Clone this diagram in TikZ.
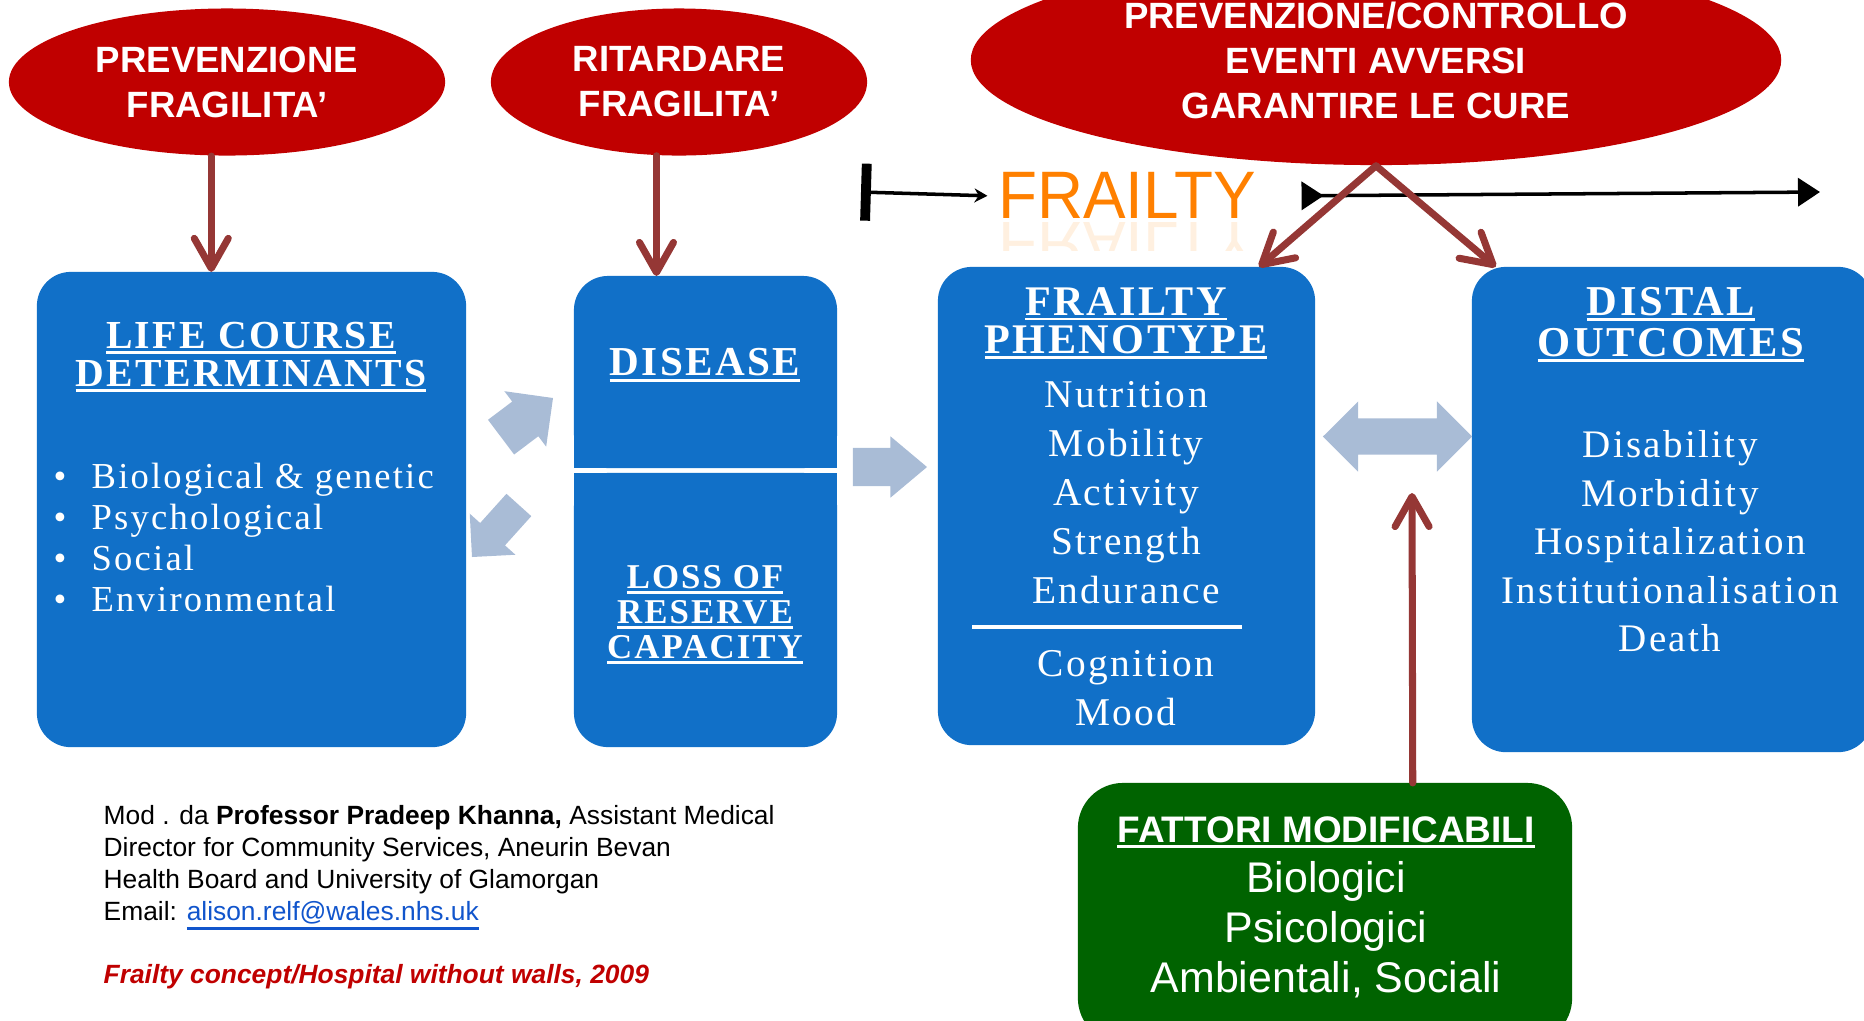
\documentclass[tikz,border=0pt]{standalone}
\usepackage{fontspec}
\setmainfont{Liberation Serif}
\newfontfamily\boxfont[LetterSpace=6]{Liberation Serif}
\newfontfamily\arialfont{Liberation Sans}
\newfontfamily\frailfont[FakeStretch=0.95]{Liberation Sans}
\usepackage{tikz}
\usetikzlibrary{arrows.meta,positioning,shapes.geometric,shapes.arrows}

\definecolor{goalred}{HTML}{C00000}
\definecolor{boxblue}{HTML}{1170C8}
\definecolor{blockgray}{HTML}{A9BCD6}
\definecolor{linkred}{HTML}{953735}
\definecolor{fatgreen}{HTML}{006300}
\definecolor{frailorange}{HTML}{FF8000}
\definecolor{mailblue}{HTML}{1155CC}

\newcommand{\setfs}[2]{\fontsize{#1}{#2}\selectfont}
\newcommand{\bul}{\makebox[0.38cm][l]{\textbullet}}
\newcommand{\uln}[1]{\leavevmode\vtop{\hbox{#1}\kern0.7pt\hrule height 0.8pt}}

\begin{document}
\begin{tikzpicture}[x=0.01cm, y=-0.01cm,
  goal/.style={ellipse, fill=goalred, text=white, inner sep=0pt, align=center,
    font=\arialfont\bfseries\setfs{10.4}{12.8}},
  box/.style={fill=boxblue, rounded corners=0.34cm, inner sep=0pt, outer sep=0pt},
  boxtext/.style={text=white, align=center, inner sep=0pt, anchor=north},
  link/.style={draw=linkred, line width=2pt, line cap=round,
    -{Straight Barb[length=3mm, width=3.4mm, round]}},
  block/.style={single arrow, fill=blockgray, inner xsep=0pt, outer sep=0pt, single arrow tip angle=90}
]
\useasboundingbox (0,0) rectangle (1864,1020);
\clip (0,0) rectangle (1864,1020);

% goals on top
\node[goal, minimum width=4.36cm, minimum height=1.47cm] (prevent) at (227,82) {PREVENZIONE\\FRAGILITA’};
\node[goal, minimum width=3.76cm, minimum height=1.47cm] (delay) at (679,82) {RITARDARE\\FRAGILITA’};
\node[goal, minimum width=8.1cm, minimum height=2.1cm] (care) at (1376,60) {PREVENZIONE/CONTROLLO\\EVENTI AVVERSI\\GARANTIRE LE CURE};

% frailty timeline
\node[font=\frailfont\setfs{19.1}{22}, text=frailorange, inner sep=0pt, anchor=north] (frailty) at (1127,172) {FRAILTY};
\begin{scope}
  \clip (980,221) rectangle (1280,250);
  \begin{scope}[shift={(1127,222)}, yscale=-1]
    \node[font=\frailfont\setfs{19.1}{22}, text=frailorange, opacity=0.12, inner sep=0pt, anchor=base, transform shape] (mirror) at (0,0) {FRAILTY};
  \end{scope}
\end{scope}
\coordinate (tlstart) at (861,192);
\coordinate (tlend) at (1820,192);
\draw[line width=1pt, {Bar[width=5.7mm, line width=2.8pt]}-{Stealth[length=1.3mm, width=1.4mm]}] (tlstart) -- ([xshift=-0.1cm]frailty.west);
\draw[line width=1pt, {Triangle[reversed, length=2.2mm, width=2.8mm]}-{Triangle[length=2.2mm, width=2.8mm]}] ([xshift=0.45cm]frailty.east) -- (tlend);

% main boxes
\node[box, minimum width=4.29cm, minimum height=4.75cm] (life) at (251.5,509.5) {};
\node[box, minimum width=2.63cm, minimum height=1.92cm] (disease) at (705.5,372) {};
\node[box, minimum width=2.63cm, minimum height=2.74cm] (reserve) at (705.5,610) {};
\fill[boxblue] (disease.south west) rectangle ([yshift=0.5cm]disease.south east);
\fill[boxblue] (reserve.north west) rectangle ([yshift=-0.5cm]reserve.north east);
\node[box, minimum width=3.77cm, minimum height=4.78cm] (phenotype) at (1126.5,506) {};
\node[box, minimum width=4.0cm, minimum height=4.85cm] (outcomes) at (1672,509.5) {};
\node[box, fill=fatgreen, rounded corners=0.45cm, minimum width=4.94cm, minimum height=2.6cm] (factors) at (1325,913) {};

\node[boxtext, font=\boxfont\bfseries\setfs{11.3}{10.9}] (lifetitle) at (251,321) {\uln{LIFE COURSE}\\\uln{DETERMINANTS}};
\node[boxtext, anchor=north west, align=left, font=\boxfont\setfs{10.4}{11.7}] (lifelist) at (53,462) {\bul Biological \& genetic\\\bul Psychological\\\bul Social\\\bul Environmental};
\node[boxtext, font=\boxfont\bfseries\setfs{11.7}{12}] (diseasetxt) at (705,348) {\uln{DISEASE}};
\node[boxtext, font=\boxfont\bfseries\setfs{9.9}{10}] (reservetxt) at (705,564.5) {\uln{LOSS OF}\\\uln{RESERVE}\\\uln{CAPACITY}};
\node[boxtext, font=\boxfont\bfseries\setfs{12}{10.9}] (phentitle) at (1126,286.5) {\uln{FRAILTY}\\\uln{PHENOTYPE}};
\node[boxtext, font=\boxfont\setfs{11.2}{13.9}] (phenlist) at (1126,381) {Nutrition\\Mobility\\Activity\\Strength\\Endurance};
\draw[white, line width=0.9pt] (972,627) -- (1242,627);
\node[boxtext, font=\boxfont\setfs{11.2}{14}] (phenlist2) at (1126,649.5) {Cognition\\Mood};
\node[boxtext, font=\boxfont\bfseries\setfs{12.1}{11.7}] (outtitle) at (1671,286.5) {\uln{DISTAL}\\\uln{OUTCOMES}};
\node[boxtext, font=\boxfont\setfs{11.1}{13.8}] (outlist) at (1670,430) {Disability\\Morbidity\\Hospitalization\\Institutionalisation\\Death};
\node[boxtext, font=\arialfont\bfseries\setfs{10.5}{12}] (factorstitle) at (1326,815.6) {\uln{FATTORI MODIFICABILI}};
\node[boxtext, font=\arialfont\setfs{12.2}{14.2}] (factorslist) at (1326,861) {Biologici\\Psicologici\\Ambientali, Sociali};

% block arrows
\node[block, rotate=37, anchor=tip, minimum height=0.65cm, inner ysep=0.21cm, single arrow head extend=0.13cm] (todisease) at (553,398) {};
\node[block, rotate=228, anchor=tip, minimum height=0.70cm, inner ysep=0.16cm, single arrow head extend=0.14cm] (tolife) at (472,557) {};
\node[block, anchor=tip, minimum height=0.74cm, inner ysep=0.185cm, single arrow head extend=0.115cm, single arrow tip angle=80] (tophenotype) at (927,467) {};
\node[double arrow, fill=blockgray, inner xsep=0pt, inner ysep=0.175cm, minimum height=1.49cm, double arrow head extend=0.17cm] (bothways) at (1397.5,436.5) {};

% red links
\draw[link] (prevent.-102) -- (prevent.-102 |- life.north);
\draw[link] (delay.-107) -- (delay.-107 |- disease.north);
\draw[link] (care.south) -- (phenotype.61);
\draw[link] (care.south) -- (outcomes.126);
\coordinate (modtip) at (1412,493);
\draw[link] (factors.56) -- (modtip);

% credits
\node[anchor=north west, inner sep=0pt, align=left, font=\arialfont\setfs{7.5}{9.1}] (credit) at (103,805) {Mod . da \textbf{Professor Pradeep Khanna,} Assistant Medical\\Director for Community Services, Aneurin Bevan\\Health Board and University of Glamorgan\\Email: \textcolor{mailblue}{\uln{alison.relf@wales.nhs.uk}}};
\node[anchor=north west, inner sep=0pt, font=\arialfont\bfseries\itshape\setfs{7.5}{8.9}, text=goalred] (source) at (103,964) {Frailty concept/Hospital without walls, 2009};
\end{tikzpicture}
\end{document}
